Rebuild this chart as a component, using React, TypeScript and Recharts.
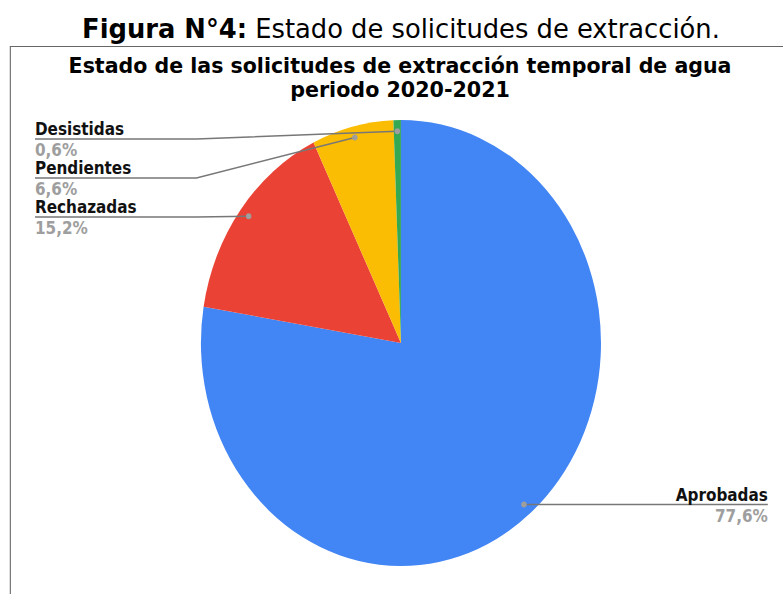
import { Cell, Pie, PieChart } from "recharts";

const names = ["Aprobadas", "Rechazadas", "Pendientes", "Desistidas"];
const shares = [77.6, 15.2, 6.6, 0.6];
const colors = ["#4285F4", "#EA4335", "#FBBC04", "#34A853"];

const data = names.map((name, i) => ({ name, value: shares[i] }));

// the reference is squeezed sideways, so the whole chart is drawn wide and scaled
const SX = 0.897;
const W = 873;
const H = 594;
const CX = 447;
const CY = 343;
const R = 223;
const DOT = 0.95;
const GAP = 39;
const MIN_TOP = 139;
const RADIAN = Math.PI / 180;
const FONT = "'DejaVu Sans', Verdana, sans-serif";

const fmt = (v: number) => v.toFixed(1).replace(".", ",") + "%";

// stack the labels on each side so they don't collide
function layoutLabels() {
  const total = shares.reduce((a, b) => a + b, 0);
  let cum = 0;
  const items = shares.map((v, i) => {
    const mid = 90 - (360 * (cum + v / 2)) / total;
    cum += v;
    return {
      name: names[i],
      left: Math.cos(mid * RADIAN) < 0,
      y: CY - DOT * R * Math.sin(mid * RADIAN),
    };
  });
  const out: Record<string, number> = {};
  [true, false].forEach((side) => {
    const list = items.filter((it) => it.left === side).sort((a, b) => a.y - b.y);
    const ys = list.map((it) => it.y);
    for (let i = ys.length - 2; i >= 0; i--) ys[i] = Math.min(ys[i], ys[i + 1] - GAP);
    for (let i = 0; i < ys.length; i++) ys[i] = Math.max(ys[i], i === 0 ? MIN_TOP : ys[i - 1] + GAP);
    list.forEach((it, i) => (out[it.name] = ys[i]));
  });
  return out;
}

const labelY = layoutLabels();

function SliceLabel(props: any) {
  const { cx, cy, midAngle, outerRadius, name, value } = props;
  const dx = cx + DOT * outerRadius * Math.cos(-midAngle * RADIAN);
  const dy = cy + DOT * outerRadius * Math.sin(-midAngle * RADIAN);
  const left = dx < cx;
  const ly = labelY[name];
  const tx = left ? 39 : 856;
  const ex = left ? cx - outerRadius - 5 : cx + outerRadius + 5;
  return (
    <g>
      <polyline points={`${tx},${ly} ${ex},${ly} ${dx},${dy}`} fill="none" stroke="#777" strokeWidth={1.5} />
      <circle cx={dx} cy={dy} r={3} fill="#9e9e9e" />
      <text x={tx} y={ly - 4} textAnchor={left ? "start" : "end"} fontFamily={FONT} fontSize={17} fontWeight="bold" fill="#111">
        {name}
      </text>
      <text x={tx} y={ly + 17} textAnchor={left ? "start" : "end"} fontFamily={FONT} fontSize={17} fontWeight="bold" fill="#9e9e9e">
        {fmt(value)}
      </text>
    </g>
  );
}

export default function App() {
  return (
    <div style={{ position: "absolute", left: 0, top: 0, width: 783, height: H, overflow: "hidden", background: "#fff" }}>
      <div style={{ position: "absolute", left: 0, top: 0, width: W, height: H, transform: `scaleX(${SX})`, transformOrigin: "0 0" }}>
        <svg width={W} height={H} style={{ position: "absolute", left: 0, top: 0 }}>
          <text x={447} y={38} textAnchor="middle" fontFamily={FONT} fontSize={26} fill="#000" textLength={711} lengthAdjust="spacingAndGlyphs">
            <tspan fontWeight="bold">Figura N°4:</tspan>
            <tspan> Estado de solicitudes de extracción.</tspan>
          </text>
          <path d={`M11.5,${H} V46.5 H${W}`} fill="none" stroke="#666" strokeWidth={1.2} />
          <text x={446} y={73} textAnchor="middle" fontFamily={FONT} fontSize={22} fontWeight="bold" fill="#000" textLength={739} lengthAdjust="spacingAndGlyphs">
            Estado de las solicitudes de extracción temporal de agua
          </text>
          <text x={446} y={97} textAnchor="middle" fontFamily={FONT} fontSize={22} fontWeight="bold" fill="#000" textLength={245} lengthAdjust="spacingAndGlyphs">
            periodo 2020-2021
          </text>
        </svg>
        <div style={{ position: "absolute", left: 0, top: 0 }}>
          <PieChart width={W} height={H} margin={{ top: 0, right: 0, bottom: 0, left: 0 }}>
            <Pie
              data={data}
              dataKey="value"
              nameKey="name"
              cx={CX}
              cy={CY}
              outerRadius={R}
              startAngle={90}
              endAngle={-270}
              stroke="none"
              labelLine={false}
              label={SliceLabel}
              isAnimationActive={false}
            >
              {data.map((d, i) => (
                <Cell key={d.name} fill={colors[i]} />
              ))}
            </Pie>
          </PieChart>
        </div>
      </div>
    </div>
  );
}
